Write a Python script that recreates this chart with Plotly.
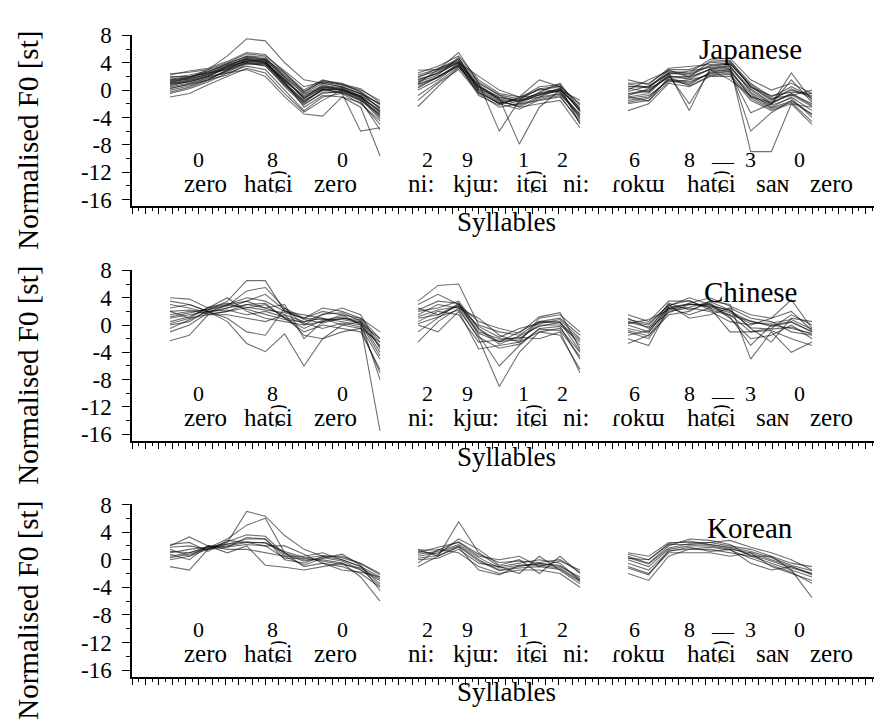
import plotly.graph_objects as go

# ---------------- data ----------------
SEG1_X = [5.7, 8.6, 11.4, 14.3, 17.2, 20.0, 22.9, 25.8, 28.6, 31.5, 34.3, 37.2]
SEG2_X = [42.9, 45.9, 49.0, 52.0, 55.1, 58.1, 61.1, 64.2, 67.2]
SEG3_X = [74.4, 77.5, 80.5, 83.6, 86.7, 89.7, 92.8, 95.9, 98.9, 102.0]

JP_SEG1 = [
    [1.0, 1.5, 2.2, 3.2, 4.3, 4.0, 1.5, -1.0, 0.5, 0.0, -0.8, -2.5],
    [0.5, 1.0, 1.8, 2.8, 4.0, 3.5, 0.8, -2.0, -0.5, -0.2, -1.5, -3.5],
    [1.8, 2.2, 2.8, 3.8, 5.0, 4.8, 2.0, -0.5, 1.0, 0.5, -0.5, -2.0],
    [-0.5, 0.2, 1.2, 2.5, 3.5, 3.0, 0.0, -3.0, -1.0, -0.5, -2.0, -4.5],
    [2.2, 2.8, 3.2, 4.2, 5.5, 5.2, 2.5, 0.0, 1.5, 0.8, 0.0, -1.5],
    [0.0, 0.6, 1.5, 3.0, 4.5, 4.2, 1.0, -1.5, 0.0, 0.2, -1.0, -3.0],
    [1.2, 1.8, 3.0, 5.0, 7.5, 7.2, 4.0, 1.5, 1.0, 0.5, -0.5, -2.0],
    [0.8, 1.2, 2.0, 2.5, 3.0, 2.0, -1.0, -3.5, -3.8, -1.0, -2.5, -9.6],
    [1.5, 1.8, 2.5, 3.5, 4.8, 4.5, 1.8, -1.2, 0.8, 0.0, -1.2, -4.0],
    [0.3, 0.8, 1.5, 2.2, 3.8, 3.8, 1.2, -2.5, -0.8, -1.0, -1.8, -5.0],
    [1.0, 1.2, 2.0, 3.5, 4.2, 4.5, 2.5, -0.3, 1.4, 1.0, -0.3, -2.8],
    [2.0, 2.0, 2.5, 3.0, 4.0, 3.8, 1.0, -1.8, 0.2, -0.5, -6.0, -5.5],
    [-1.0, -0.5, 0.8, 2.0, 3.2, 2.5, -0.5, -3.2, -1.5, 0.0, -1.0, -3.8],
    [1.3, 1.6, 2.4, 3.6, 4.6, 4.3, 1.3, -0.8, 0.4, 0.3, -0.9, -3.2],
    [0.6, 1.3, 2.0, 3.3, 4.4, 4.1, 1.6, -1.3, 0.3, 0.1, -1.1, -3.0],
    [1.6, 2.0, 2.6, 3.9, 4.9, 4.6, 2.2, -0.2, 1.2, 0.7, -0.2, -2.2],
    [0.2, 0.9, 1.7, 2.7, 3.9, 3.6, 0.5, -2.2, -0.3, -0.3, -1.4, -4.2],
    [1.1, 1.7, 2.3, 3.4, 4.7, 4.4, 1.9, -0.6, 0.6, 0.4, -0.6, -2.6],
    [-0.3, 0.4, 1.4, 2.9, 4.1, 3.9, 0.7, -1.8, 0.1, -0.4, -1.6, -5.8],
    [2.4, 2.6, 3.0, 4.0, 5.3, 5.0, 2.8, 0.5, 1.2, 0.9, 0.2, -1.8],
    [0.9, 1.4, 2.1, 3.1, 4.2, 4.0, 1.4, -1.1, 0.2, -0.1, -1.3, -3.6],
    [1.4, 1.9, 2.7, 3.7, 4.5, 4.1, 1.1, -1.6, 0.0, 0.2, -0.9, -3.3],
]
JP_SEG2 = [
    [1.5, 2.5, 4.0, 0.5, -1.0, -1.5, -0.5, 0.0, -2.5],
    [0.5, 2.0, 3.5, 0.0, -1.8, -2.2, -1.0, -0.5, -3.5],
    [2.5, 3.5, 5.0, 1.5, -0.5, -1.0, 0.0, 0.5, -2.0],
    [-1.5, 1.0, 3.0, -0.5, -2.5, -2.0, -1.5, -1.0, -4.5],
    [1.0, 3.0, 5.5, 1.0, -6.0, -1.5, -1.0, 0.2, -3.0],
    [2.0, 2.8, 4.5, 0.2, -1.2, -7.9, -2.5, 0.0, -4.0],
    [0.0, 1.5, 3.8, -0.8, -2.2, -1.0, 1.5, 0.5, -5.0],
    [1.8, 3.2, 4.2, 1.0, -0.8, -1.8, -0.3, 1.0, -2.8],
    [-2.4, 0.5, 3.3, 0.5, -1.5, -2.5, -2.0, -1.5, -5.5],
    [1.2, 2.2, 4.8, -0.2, -2.0, -1.2, 0.5, 0.8, -3.2],
    [2.9, 3.0, 4.0, 2.0, 0.0, -1.0, -0.8, 0.0, -1.5],
    [0.8, 1.8, 3.6, 0.8, -1.4, -2.0, -0.6, -0.2, -4.2],
    [1.3, 2.6, 4.3, 0.6, -1.1, -1.6, -0.4, 0.1, -2.8],
    [0.3, 1.9, 3.9, 0.1, -1.6, -2.4, -1.2, -0.6, -3.8],
    [2.2, 3.1, 4.6, 1.2, -0.7, -1.3, 0.2, 0.6, -2.2],
    [-0.8, 1.2, 3.4, -0.3, -2.0, -2.8, -1.4, -0.8, -4.8],
    [1.6, 2.4, 4.1, 0.4, -1.3, -1.7, -0.7, 0.3, -3.0],
    [0.9, 2.0, 3.7, -0.4, -1.9, -1.4, 0.2, -0.3, -3.6],
]
JP_SEG3 = [
    [-0.5, 0.0, 2.0, 2.0, 3.0, 3.2, 0.0, -2.0, -0.5, -2.0],
    [-1.5, -1.0, 1.5, 1.0, 2.5, 2.8, -0.5, -2.5, -1.0, -3.0],
    [1.0, 1.0, 3.0, 3.0, 4.0, 4.2, 1.0, -1.0, 0.5, -1.0],
    [-3.0, -2.0, 1.0, 0.5, 2.0, 2.0, -1.5, -3.0, -2.0, -5.0],
    [0.5, 0.5, 2.5, -3.0, 3.2, 3.5, -9.0, -9.0, -2.0, -2.5],
    [0.0, 1.5, 2.8, 2.5, 4.5, 4.7, 1.5, 0.0, 1.0, -0.5],
    [-1.0, -0.5, 2.2, -2.0, 2.8, 3.0, -6.0, -3.3, -1.5, -3.5],
    [-2.0, -1.5, 1.2, 1.5, 2.2, 2.5, -3.3, -2.0, 2.5, -1.5],
    [1.5, 0.8, 3.2, 3.5, 3.8, 4.0, 0.5, -1.5, 0.0, -0.8],
    [-0.8, 0.2, 1.8, 1.8, 3.0, 1.5, -0.8, -2.2, -1.2, -4.0],
    [0.3, -0.3, 2.5, 2.2, 3.5, 3.8, 0.8, -1.2, -0.8, 0.0],
    [-1.2, -0.8, 1.4, 0.8, 2.6, 3.0, -1.0, -1.8, -0.5, -2.2],
    [-0.6, -0.2, 2.1, 1.6, 3.1, 3.4, 0.2, -1.8, -0.7, -2.4],
    [0.6, 0.3, 2.6, 2.4, 3.6, 3.9, 0.6, -1.4, 0.2, -1.2],
    [-1.8, -1.2, 1.6, 1.2, 2.4, 2.7, -0.9, -2.6, -1.6, -3.6],
    [-0.2, 0.6, 2.3, 2.8, 3.3, 3.6, -0.3, -2.1, 1.5, -1.8],
    [0.9, 0.4, 2.9, 1.9, 4.2, 4.4, 0.4, -0.8, -0.3, -0.5],
    [-1.0, -1.6, 1.9, 0.6, 2.1, 2.3, -1.2, -2.8, -1.8, -4.6],
]

CN_SEG1 = [
    [1.0, 1.5, 2.0, 2.5, 3.0, 2.5, 1.5, 0.5, 1.0, 0.5, 0.0, -3.0],
    [4.0, 3.8, 2.5, 3.0, 4.0, 3.5, 2.0, 1.0, 2.0, 1.5, 1.0, -2.0],
    [-2.3, -1.5, 1.5, 2.0, 2.5, 3.0, 1.0, -1.0, 0.0, -0.5, -1.0, -6.5],
    [2.5, 3.0, 2.0, 1.0, -1.0, -1.5, 2.5, 0.0, 0.5, 1.0, 0.5, -4.0],
    [0.0, 0.5, 2.2, 3.5, 6.5, 6.5, 2.0, 1.5, 1.0, 0.0, -0.5, -2.5],
    [3.5, 3.0, 2.0, 0.5, -2.7, -3.9, -1.3, -6.0, -2.0, 0.0, 0.5, -8.0],
    [-1.0, 0.0, 1.8, 3.0, 3.5, 2.5, 3.0, -2.0, 0.5, 1.5, 0.0, -15.5],
    [1.5, 2.0, 2.2, 2.8, 5.0, 5.5, 2.5, 1.0, 2.5, 2.0, 1.0, -1.0],
    [2.0, 1.0, 1.5, 1.5, 1.0, 0.5, 1.5, -1.5, -2.0, -1.0, -0.5, -7.0],
    [0.5, 1.2, 2.5, 4.0, 2.0, 1.0, 0.5, 0.0, 1.5, 2.5, 1.5, -3.5],
    [-0.5, 0.8, 2.0, 2.2, 1.5, 2.0, 1.2, 0.3, -0.5, 0.3, -0.3, -5.0],
    [3.0, 2.5, 1.8, 2.5, 3.5, 4.5, 2.2, 0.8, 0.3, 1.0, 0.8, -2.5],
    [1.2, 1.8, 2.4, 2.9, 2.6, 2.2, 1.8, 1.0, 0.8, 0.8, 0.3, -2.0],
    [2.0, 2.2, 1.6, 2.0, 3.0, 3.2, 1.0, -0.5, 0.7, 1.2, 0.2, -4.5],
    [0.2, 1.0, 2.6, 3.2, 2.3, 1.6, 0.8, 0.4, 1.6, 1.8, 0.6, -3.2],
]
CN_SEG2 = [
    [1.0, 1.5, 3.0, -1.0, -2.0, -2.0, 0.0, 0.0, -2.5],
    [3.5, 5.8, 6.0, 0.0, -1.0, -1.5, 0.5, 1.0, -1.5],
    [-2.5, 0.5, 2.5, -2.0, -9.0, -4.0, -1.0, -0.5, -4.0],
    [2.0, 2.5, 3.5, -0.5, -2.5, -1.0, 0.5, 0.5, -3.0],
    [0.0, -1.0, 2.0, -3.5, -3.0, -2.5, -1.0, -1.5, -6.5],
    [1.5, 3.0, 2.5, 1.0, -1.5, -2.5, 1.0, 1.5, -1.0],
    [-1.0, 1.0, 3.2, -1.5, -6.0, -3.0, -0.5, -0.2, -5.0],
    [2.5, 1.5, 2.8, -0.2, -1.8, -0.5, 0.2, 0.8, -2.0],
    [0.5, 2.0, 1.5, -2.5, -2.2, -1.8, -2.0, -1.0, -7.0],
    [3.0, 4.5, 3.0, 0.5, -0.5, -1.2, 1.2, 1.8, -3.5],
    [1.2, 2.2, 2.7, -1.2, -2.4, -2.2, 0.4, 0.3, -2.2],
    [2.2, 3.5, 3.2, -0.6, -2.8, -1.6, -0.2, 0.4, -3.8],
    [0.2, 1.2, 2.2, -1.8, -3.4, -2.8, -0.6, -0.8, -4.6],
]
CN_SEG3 = [
    [0.0, -1.0, 2.5, 3.0, 3.0, 2.0, 0.5, 0.0, 0.5, -1.0],
    [1.5, 0.5, 3.5, 3.5, 2.5, 1.5, -1.0, -0.5, 1.5, 0.0],
    [-2.7, -1.5, 1.5, 2.0, 3.5, 3.0, -5.0, -1.0, -4.0, -2.5],
    [-1.0, -2.0, 2.0, 2.5, 2.0, 0.5, 0.0, 1.0, 3.7, -0.5],
    [0.5, 0.0, 3.0, 1.0, 1.5, 2.5, 1.0, 0.5, -1.0, -1.5],
    [-0.5, -1.2, 2.8, 4.0, 3.0, 1.0, -2.0, -1.5, 0.0, -2.0],
    [1.0, -0.5, 1.8, 3.0, 2.8, 2.2, -0.5, -2.5, 1.0, 0.5],
    [-1.5, -0.8, 3.2, 2.2, 3.2, 1.2, -3.0, 0.0, -0.5, -1.2],
    [0.2, 0.8, 2.2, 3.2, 4.0, 2.8, 1.5, 1.0, 2.0, -0.8],
    [-2.0, -3.0, 2.5, 1.5, 2.5, -1.0, -1.0, -0.8, -2.0, -3.0],
    [0.4, -0.3, 2.6, 3.1, 2.7, 1.8, 0.2, 0.3, 0.8, -0.6],
    [-0.8, -1.6, 2.4, 2.6, 3.4, 2.2, -0.4, -0.6, -0.3, -1.4],
    [0.8, 0.2, 2.9, 3.6, 2.2, 1.4, 0.6, -0.2, 0.4, -1.0],
]

KR_SEG1 = [
    [1.0, 1.5, 1.8, 2.0, 2.5, 2.5, 1.0, 0.0, 0.0, -0.5, -1.5, -3.0],
    [2.0, 3.3, 2.0, 1.5, 1.5, 1.0, 0.5, 0.5, 1.0, 0.0, -1.0, -2.5],
    [-1.0, -1.5, 1.5, 2.5, 7.0, 6.3, 3.5, 1.5, 0.5, 0.5, -0.5, -2.0],
    [0.5, 1.0, 1.7, 3.0, 5.0, 6.0, 1.0, -1.0, -0.5, -1.0, -2.0, -4.0],
    [1.5, 0.5, 2.0, 1.0, 2.0, -0.8, -1.1, -1.5, -1.0, -0.5, -2.5, -6.0],
    [0.0, 0.5, 1.5, 2.2, 3.0, 3.0, 0.0, -0.5, 0.5, 0.0, -1.0, -3.5],
    [2.2, 2.5, 1.2, 2.8, 2.5, 2.0, 2.0, 0.8, -0.5, -1.5, -1.8, -2.5],
    [0.8, 0.0, 2.0, 1.8, 3.2, 3.0, 0.5, -0.8, 0.2, 0.8, -0.8, -4.5],
    [1.2, 1.0, 1.9, 2.3, 2.6, 2.4, 1.2, 0.3, -0.2, -0.8, -1.2, -2.8],
    [0.3, 0.8, 1.6, 2.6, 3.6, 3.4, 0.8, -0.2, 0.3, -0.2, -1.4, -3.8],
    [1.8, 2.0, 1.5, 1.8, 2.2, 2.0, 0.2, 0.2, 0.6, 0.3, -0.6, -2.2],
]
KR_SEG2 = [
    [0.5, 1.0, 2.0, 0.0, -1.5, -1.0, -0.5, -1.0, -2.5],
    [1.5, 0.5, 5.5, 1.0, -1.0, -0.5, 0.0, -0.5, -3.0],
    [-0.5, 1.5, 1.0, -1.0, -2.0, -1.5, -1.5, -2.0, -4.0],
    [1.0, 1.8, 2.5, 0.5, 0.0, 0.5, -1.0, -0.2, -1.5],
    [0.0, 0.2, 1.5, -0.5, -1.0, -2.0, 0.5, -1.5, -3.5],
    [1.2, 0.8, 3.0, 1.5, -0.8, 0.0, -2.0, 0.5, -2.0],
    [-1.0, 0.5, 1.8, -1.5, -2.2, -0.8, -0.8, -1.2, -3.0],
    [0.8, 1.2, 2.2, 0.3, -1.2, -0.8, -0.6, -0.8, -2.8],
    [0.2, 0.6, 1.9, -0.2, -1.6, -1.2, -1.0, -1.4, -3.2],
    [1.4, 1.4, 2.6, 0.8, -0.4, -0.2, -0.4, 0.0, -1.8],
]
KR_SEG3 = [
    [0.0, -1.0, 1.5, 2.0, 2.0, 1.5, 1.0, 0.0, -1.0, -2.0],
    [1.0, 0.5, 2.5, 2.5, 2.5, 2.0, 1.5, 0.5, -0.5, -1.0],
    [-2.0, -3.0, 0.5, 1.5, 1.5, 1.0, 0.5, -0.5, -1.5, -5.5],
    [0.5, -0.5, 2.0, 3.0, 2.8, 2.2, 0.5, 0.5, -1.5, -2.5],
    [-1.0, -2.0, 1.0, 1.0, 1.0, 0.5, 1.0, -1.0, -2.0, -3.0],
    [0.2, 0.0, 2.2, 2.2, 2.5, 2.8, 1.8, 1.0, 0.0, -1.5],
    [-0.5, -1.5, 1.2, 1.8, 1.2, 1.5, -0.5, -1.5, -1.0, -2.2],
    [0.3, -0.6, 1.7, 2.3, 2.2, 1.8, 1.2, 0.3, -0.8, -1.6],
    [-1.2, -2.2, 1.3, 1.6, 1.8, 1.4, 0.2, -0.8, -1.8, -3.4],
    [0.8, 0.0, 2.3, 2.7, 2.2, 1.7, 0.7, -0.2, -1.2, -2.0],
]

LANGUAGES = ["Japanese", "Chinese", "Korean"]
DIGIT_LABELS = ["0", "8", "0", "2", "9", "1", "2", "6", "8", "3", "0"]
DIGIT_X = [9.9, 21.0, 31.5, 44.25, 50.25, 58.65, 64.5, 75.3, 83.55, 92.7, 100.05]
WORD_LABELS = ["zero", "hat\u0361\u0255i", "zero", "ni:", "kj\u026f:", "it\u0361\u0255i",
               "ni:", "\u027eok\u026f", "hat\u0361\u0255i", "sa\u0274", "zero"]
WORD_X = [10.95, 20.4, 30.45, 43.35, 51.6, 60.0, 66.6, 75.9, 86.85, 96.15, 104.85]
Y_TICK_VALS = [-16, -12, -8, -4, 0, 4, 8]
Y_TICK_TEXT = ["-16", "-12", "-8", "-4", "0", "4", "8"]

# ---------------- layout constants ----------------
W, H = 874, 725
SERIF = "Liberation Serif, Times New Roman, serif"
PANEL_TOP_PX = [24, 265, 505]
PANEL_BOT_PX = [199.3, 440, 682]
X_LEFT_PX = 132
X_RANGE = [0, 111.3]
Y_RANGE = [-17, 8]
LINE_COLOR = "rgba(15,15,15,0.6)"

panels = [
    (JP_SEG1, JP_SEG2, JP_SEG3),
    (CN_SEG1, CN_SEG2, CN_SEG3),
    (KR_SEG1, KR_SEG2, KR_SEG3),
]
seg_xs = [SEG1_X, SEG2_X, SEG3_X]

fig = go.Figure()
for p, segs in enumerate(panels):
    xa = "x" if p == 0 else f"x{p+1}"
    ya = "y" if p == 0 else f"y{p+1}"
    for sx, lines in zip(seg_xs, segs):
        for ln in lines:
            fig.add_trace(go.Scatter(
                x=sx, y=ln, mode="lines", xaxis=xa, yaxis=ya,
                line=dict(color=LINE_COLOR, width=1.1),
                hoverinfo="skip", showlegend=False))

layout = dict(
    width=W, height=H, margin=dict(l=0, r=0, t=0, b=0),
    paper_bgcolor="white", plot_bgcolor="white", showlegend=False,
    font=dict(family=SERIF, color="black"),
)
annotations = []
for p in range(3):
    sfx = "" if p == 0 else str(p + 1)
    ydom = [1 - PANEL_BOT_PX[p] / H, 1 - PANEL_TOP_PX[p] / H]
    layout["xaxis" + sfx] = dict(
        domain=[X_LEFT_PX / W, 1], range=X_RANGE, anchor="y" + sfx,
        showline=True, linecolor="black", linewidth=1.5, showgrid=False,
        zeroline=False, ticks="outside", ticklen=6, tickwidth=1,
        tickcolor="black", dtick=2, tick0=0, showticklabels=False,
        minor=dict(ticks="outside", ticklen=3, dtick=1, tickcolor="black", tickwidth=1),
        fixedrange=True)
    layout["yaxis" + sfx] = dict(
        domain=ydom, range=Y_RANGE, anchor="x" + sfx,
        showline=True, linecolor="black", linewidth=1.5, showgrid=False,
        zeroline=False, ticks="outside", ticklen=8, tickwidth=1,
        tickcolor="black", tickvals=Y_TICK_VALS, ticktext=Y_TICK_TEXT,
        tickfont=dict(family=SERIF, size=23, color="black"),
        ticklabelstandoff=6,
        minor=dict(ticks="outside", ticklen=4, dtick=2, tick0=0,
                   tickcolor="black", tickwidth=1),
        fixedrange=True)
    xr = "x" + sfx
    yr = "y" + sfx
    for lab, xv in zip(DIGIT_LABELS, DIGIT_X):
        annotations.append(dict(x=xv, y=-10.1, xref=xr, yref=yr, text=lab,
                                showarrow=False, font=dict(family=SERIF, size=22)))
    annotations.append(dict(x=88.6, y=-9.3, xref=xr, yref=yr, text="__",
                            showarrow=False, font=dict(family=SERIF, size=22)))
    for lab, xv in zip(WORD_LABELS, WORD_X):
        annotations.append(dict(x=xv, y=-13.6, xref=xr, yref=yr, text=lab,
                                showarrow=False, font=dict(family=SERIF, size=25)))
    lang_y = [6.0, 4.9, 4.6][p]
    annotations.append(dict(x=92.7, y=lang_y, xref=xr, yref=yr, text=LANGUAGES[p],
                            showarrow=False, font=dict(family=SERIF, size=29)))
    # axis titles
    syl_y_px = [215, 456, 697][p]
    annotations.append(dict(x=507 / W, y=1 - syl_y_px / H, xref="paper", yref="paper",
                            text="Syllables", showarrow=False,
                            xanchor="center", yanchor="middle",
                            font=dict(family=SERIF, size=27)))
    tit_y_px = [132, 373, 614][p]
    annotations.append(dict(x=28 / W, y=1 - tit_y_px / H, xref="paper", yref="paper",
                            text="Normalised F0 [st]", textangle=-90, showarrow=False,
                            xanchor="center", yanchor="middle",
                            font=dict(family=SERIF, size=29)))

layout["annotations"] = annotations
fig.update_layout(**layout)
fig.write_html("out.html")
